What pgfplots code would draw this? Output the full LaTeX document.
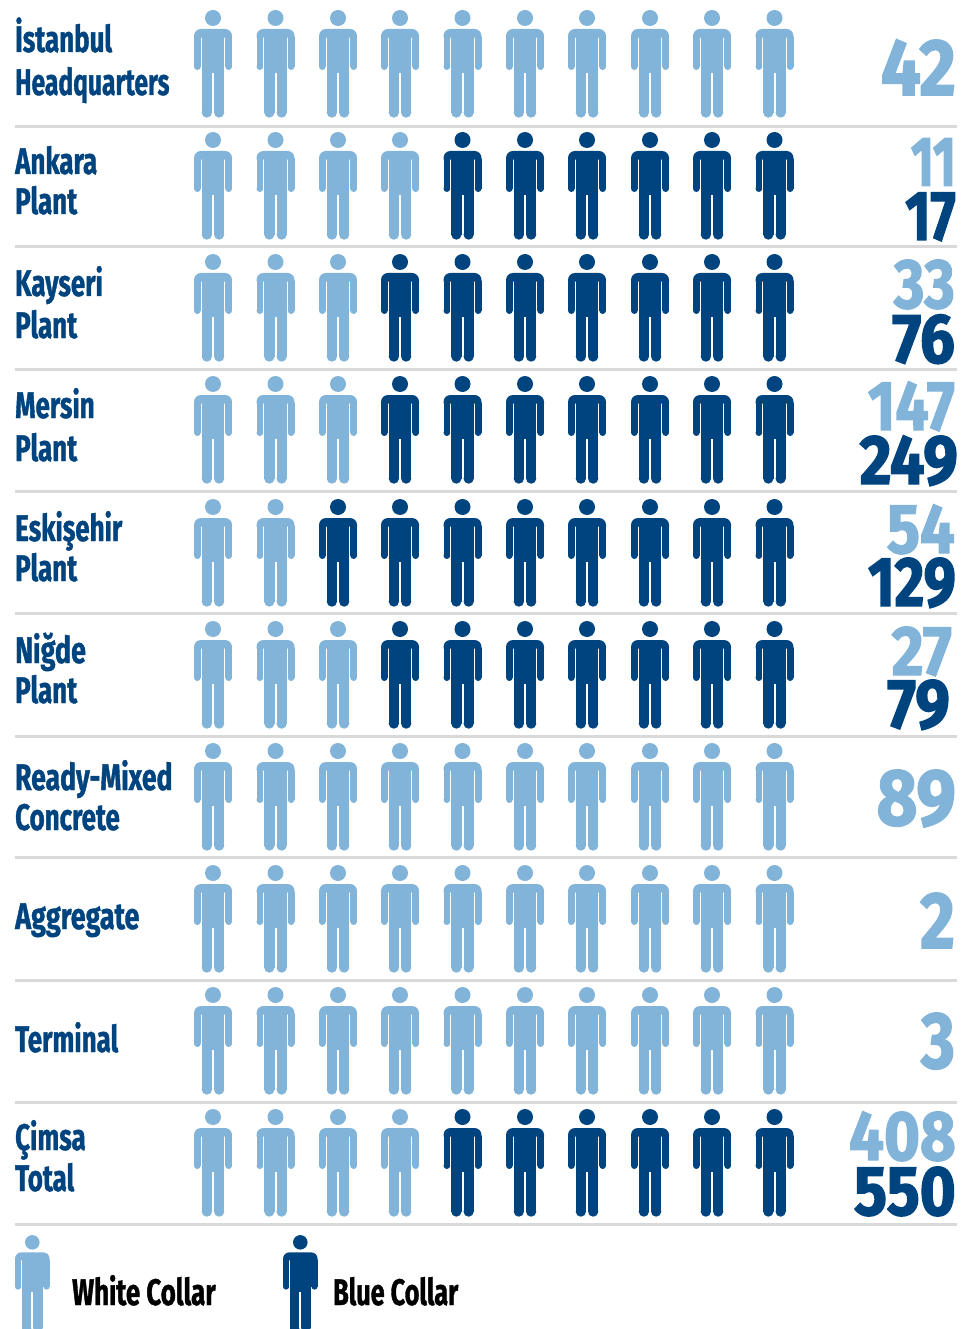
\documentclass[border=0pt]{standalone}
\usepackage{fontspec}
\usepackage{graphicx}
\usepackage{pgfplots}
\pgfplotsset{compat=1.18}
\usetikzlibrary{plotmarks}
\newfontfamily\num[FakeStretch=0.88,FakeBold=2]{Fira Sans Bold}
\newfontfamily\labf[FakeStretch=0.70,FakeBold=1]{Fira Sans Bold}
\definecolor{lb}{HTML}{82B4D9}
\definecolor{db}{HTML}{00447F}
\definecolor{rulec}{HTML}{D9D9D9}

% person icon, 1pt = 1px of the reference, origin mid-body
\pgfdeclareplotmark{person}{%
  \pgfpathcircle{\pgfqpoint{0pt}{46pt}}{8pt}%
  % shoulders
  \pgfpathmoveto{\pgfqpoint{-19pt}{26.3pt}}\pgfpathlineto{\pgfqpoint{-19pt}{28pt}}%
  \pgfpathcurveto{\pgfqpoint{-19pt}{31.9pt}}{\pgfqpoint{-15.9pt}{35pt}}{\pgfqpoint{-12pt}{35pt}}%
  \pgfpathlineto{\pgfqpoint{12pt}{35pt}}%
  \pgfpathcurveto{\pgfqpoint{15.9pt}{35pt}}{\pgfqpoint{19pt}{31.9pt}}{\pgfqpoint{19pt}{28pt}}%
  \pgfpathlineto{\pgfqpoint{19pt}{26.3pt}}\pgfpathclose
  \pgfusepathqfill
  % torso
  \pgfpathrectanglecorners{\pgfqpoint{-11.3pt}{27pt}}{\pgfqpoint{11.3pt}{-9pt}}\pgfusepathqfill
  % arms
  \pgfpathrectanglecorners{\pgfqpoint{-19pt}{27pt}}{\pgfqpoint{-12.3pt}{-2.65pt}}\pgfusepathqfill
  \pgfpathcircle{\pgfqpoint{-15.65pt}{-2.65pt}}{3.35pt}\pgfusepathqfill
  \pgfpathrectanglecorners{\pgfqpoint{19pt}{27pt}}{\pgfqpoint{12.3pt}{-2.65pt}}\pgfusepathqfill
  \pgfpathcircle{\pgfqpoint{15.65pt}{-2.65pt}}{3.35pt}\pgfusepathqfill
  % legs
  \pgfpathrectanglecorners{\pgfqpoint{-11.3pt}{-7pt}}{\pgfqpoint{-1pt}{-48.55pt}}\pgfusepathqfill
  \pgfpathcircle{\pgfqpoint{-6.15pt}{-48.55pt}}{5.15pt}\pgfusepathqfill
  \pgfpathrectanglecorners{\pgfqpoint{11.3pt}{-7pt}}{\pgfqpoint{1pt}{-48.55pt}}\pgfusepathqfill
  \pgfpathcircle{\pgfqpoint{6.15pt}{-48.55pt}}{5.15pt}\pgfusepathqfill
}

\newcommand{\rowlabel}[3][1]{\node[anchor=base west,inner sep=0pt,text=db,font=\labf\fontsize{37}{37}\selectfont] at (axis cs:15,#3) {\scalebox{#1}[1]{#2}};}
% number, baseline y, colour, right edge, size; optional horizontal scale
\newcommand{\val}[6][1]{\node[anchor=base east,inner sep=0pt,text=#4,font=\num\fontsize{#6}{#6}\selectfont] at (axis cs:#5,#3) {\scalebox{#1}[1]{#2}};}

\begin{document}
\begin{tikzpicture}
\clip (0,0) rectangle (960pt,1329pt);
\begin{axis}[
    hide axis, scale only axis, width=960pt, height=1329pt,
    xmin=0, xmax=960, ymin=0, ymax=1329, y dir=reverse,
    clip=false,
]
\pgfplotsinvokeforeach{127,247,369,491,613,736,857,980,1102,1224}{
  \addplot[draw=rulec, line width=3pt, forget plot] coordinates {(15,#1) (957,#1)};
}
% white collar
\addplot[only marks, mark=person, color=lb] coordinates {
 (213,64) (275.5,64) (338,64) (400,64) (462.5,64) (525,64) (587,64) (650,64) (712,64) (774.5,64)
 (213,186) (275.5,186) (338,186) (400,186)
 (213,308) (275.5,308) (338,308)
 (213,430) (275.5,430) (338,430)
 (213,553) (275.5,553)
 (213,675) (275.5,675) (338,675)
 (213,797) (275.5,797) (338,797) (400,797) (462.5,797) (525,797) (587,797) (650,797) (712,797) (774.5,797)
 (213,919) (275.5,919) (338,919) (400,919) (462.5,919) (525,919) (587,919) (650,919) (712,919) (774.5,919)
 (213,1041) (275.5,1041) (338,1041) (400,1041) (462.5,1041) (525,1041) (587,1041) (650,1041) (712,1041) (774.5,1041)
 (213,1163) (275.5,1163) (338,1163) (400,1163)
};
% blue collar
\addplot[only marks, mark=person, color=db] coordinates {
 (462.5,186) (525,186) (587,186) (650,186) (712,186) (774.5,186)
 (400,308) (462.5,308) (525,308) (587,308) (650,308) (712,308) (774.5,308)
 (400,430) (462.5,430) (525,430) (587,430) (650,430) (712,430) (774.5,430)
 (338,553) (400,553) (462.5,553) (525,553) (587,553) (650,553) (712,553) (774.5,553)
 (400,675) (462.5,675) (525,675) (587,675) (650,675) (712,675) (774.5,675)
 (462.5,1163) (525,1163) (587,1163) (650,1163) (712,1163) (774.5,1163)
};
% legend icons
\addplot[only marks, mark=person, color=lb, mark options={scale=0.91}] coordinates {(32.3,1284.2)};
\addplot[only marks, mark=person, color=db, mark options={scale=0.91}] coordinates {(300.3,1284.2)};

\rowlabel{İstanbul}{52}
\rowlabel[0.95]{Headquarters}{95}
\rowlabel{Ankara}{174}
\rowlabel{Plant}{214}
\rowlabel{Kayseri}{296}
\rowlabel{Plant}{338}
\rowlabel{Mersin}{418}
\rowlabel{Plant}{461}
\rowlabel{Eskişehir}{541}
\rowlabel{Plant}{581}
\rowlabel[1.04]{Niğde}{663}
\rowlabel{Plant}{703}
\rowlabel[1.025]{Ready-Mixed}{790}
\rowlabel{Concrete}{830}
\rowlabel[1.04]{Aggregate}{929}
\rowlabel{Terminal}{1052}
\rowlabel{Çimsa}{1150}
\rowlabel{Total}{1191}

\val{42}{95}{lb}{956}{80}
\val[0.8]{11}{185.7}{lb}{956}{70}
\val[0.88]{17}{240}{db}{956}{70}
\val[0.95]{33}{308}{lb}{955}{70}
\val{76}{362.7}{db}{955}{70}
\val[0.96]{147}{430}{lb}{955}{70}
\val{249}{484}{db}{958}{70}
\val{54}{553}{lb}{955}{70}
\val[0.93]{129}{606}{db}{956}{70}
\val{27}{675}{lb}{952}{70}
\val{79}{728}{db}{950}{70}
\val{89}{825}{lb}{956}{80}
\val[0.95]{2}{948}{lb}{955}{80}
\val[0.92]{3}{1068}{lb}{955}{80}
\val{408}{1160}{lb}{956}{70}
\val{550}{1215}{db}{956}{70}

\node[anchor=base west,inner sep=0pt,text=black,font=\labf\fontsize{37}{37}\selectfont] at (axis cs:72,1305) {White Collar};
\node[anchor=base west,inner sep=0pt,text=black,font=\labf\fontsize{37}{37}\selectfont] at (axis cs:333,1305) {\scalebox{0.975}[1]{Blue Collar}};
\end{axis}
\end{tikzpicture}
\end{document}
